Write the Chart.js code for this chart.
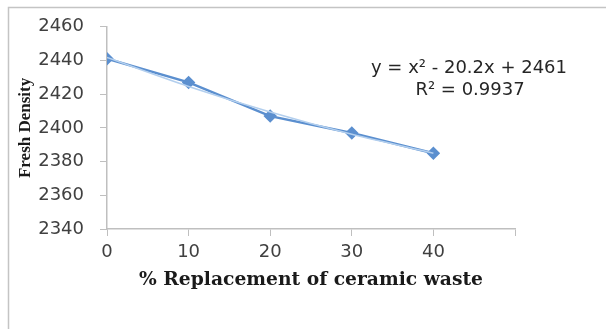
<!DOCTYPE html>
<html>
<head>
<meta charset="utf-8">
<script src="https://cdn.jsdelivr.net/npm/chart.js@4"></script>
<style>
  html, body { margin: 0; padding: 0; background: #fff; }
  #wrap { width: 606px; height: 329px; }
</style>
</head>
<body>
<div id="wrap"><canvas id="densityChart" width="606" height="329"></canvas></div>
<script>
const pctReplacement = [0, 10, 20, 30, 40];
const freshDensity = [2441, 2427, 2407, 2397, 2385];
// polynomial trendline values at each category (from the equation shown)
const trendDensity = [2441.8, 2424.6, 2409.4, 2396.2, 2385];
const yTicks = [2340, 2360, 2380, 2400, 2420, 2440, 2460];
const xTicks = [0, 10, 20, 30, 40];
const equationLines = ['y = x\u00B2 - 20.2x + 2461', 'R\u00B2 = 0.9937'];

const frame = {
  id: 'frame',
  beforeDraw(chart) {
    const ctx = chart.ctx;
    ctx.save();
    ctx.strokeStyle = '#c4c4c4';
    ctx.lineWidth = 1.5;
    ctx.beginPath();
    ctx.moveTo(8.5, 329);
    ctx.lineTo(8.5, 7.5);
    ctx.lineTo(606, 7.5);
    ctx.stroke();
    ctx.restore();
  },
  afterDraw(chart) {
    const ctx = chart.ctx;
    ctx.save();
    ctx.fillStyle = '#262626';
    ctx.font = '18px "DejaVu Sans"';
    ctx.textAlign = 'center';
    ctx.textBaseline = 'middle';
    ctx.fillText(equationLines[0], 469, 68);
    ctx.fillText(equationLines[1], 470, 90);
    ctx.restore();
  }
};

const ctx = document.getElementById('densityChart').getContext('2d');
new Chart(ctx, {
  type: 'line',
  data: {
    datasets: [{
      label: 'Fresh Density',
      data: pctReplacement.map((x, i) => ({ x: x, y: freshDensity[i] })),
      borderColor: '#5b8fcf',
      backgroundColor: '#5b8fcf',
      borderWidth: 2.5,
      pointStyle: 'rectRot',
      pointRadius: 5,
      pointHoverRadius: 5,
      tension: 0,
      order: 2
    }, {
      label: 'Trend',
      data: pctReplacement.map((x, i) => ({ x: x, y: trendDensity[i] })),
      borderColor: '#b3cfee',
      borderWidth: 1.5,
      pointRadius: 0,
      cubicInterpolationMode: 'monotone',
      order: 1
    }]
  },
  plugins: [frame],
  options: {
    responsive: false,
    animation: false,
    events: [],
    layout: { padding: { top: 19, right: 91, bottom: 0, left: 0 } },
    plugins: {
      legend: { display: false },
      tooltip: { enabled: false }
    },
    scales: {
      x: {
        type: 'linear',
        min: 0,
        max: 50,
        afterFit: (scale) => { scale.height = 100; },
        afterBuildTicks: (scale) => {
          scale.ticks = xTicks.concat([50]).map(v => ({ value: v }));
        },
        ticks: {
          color: '#404040',
          font: { family: 'DejaVu Sans', size: 18 },
          padding: 6,
          maxRotation: 0,
          callback: (v) => xTicks.includes(v) ? String(v) : ''
        },
        grid: { drawOnChartArea: false, tickLength: 7, color: '#bfbfbf' },
        border: { color: '#bfbfbf', width: 1.5 },
        title: {
          display: true,
          text: '% Replacement of ceramic waste',
          color: '#1a1a1a',
          font: { family: 'DejaVu Serif', size: 18.7, weight: 'bold' },
          padding: { top: 0, bottom: 38 }
        }
      },
      y: {
        min: 2340,
        max: 2460,
        afterFit: (scale) => { scale.width = 107; },
        afterBuildTicks: (scale) => {
          scale.ticks = yTicks.map(v => ({ value: v }));
        },
        ticks: {
          color: '#404040',
          font: { family: 'DejaVu Sans', size: 18 },
          padding: 16,
          callback: (v) => String(v)
        },
        grid: { drawOnChartArea: false, tickLength: 7, color: '#bfbfbf' },
        border: { color: '#bfbfbf', width: 1.5 },
        title: {
          display: true,
          text: 'Fresh Density',
          color: '#1a1a1a',
          font: { family: 'Liberation Serif', size: 17, weight: 'bold' },
          padding: { top: 15, bottom: 0 }
        }
      }
    }
  }
});
</script>
</body>
</html>
